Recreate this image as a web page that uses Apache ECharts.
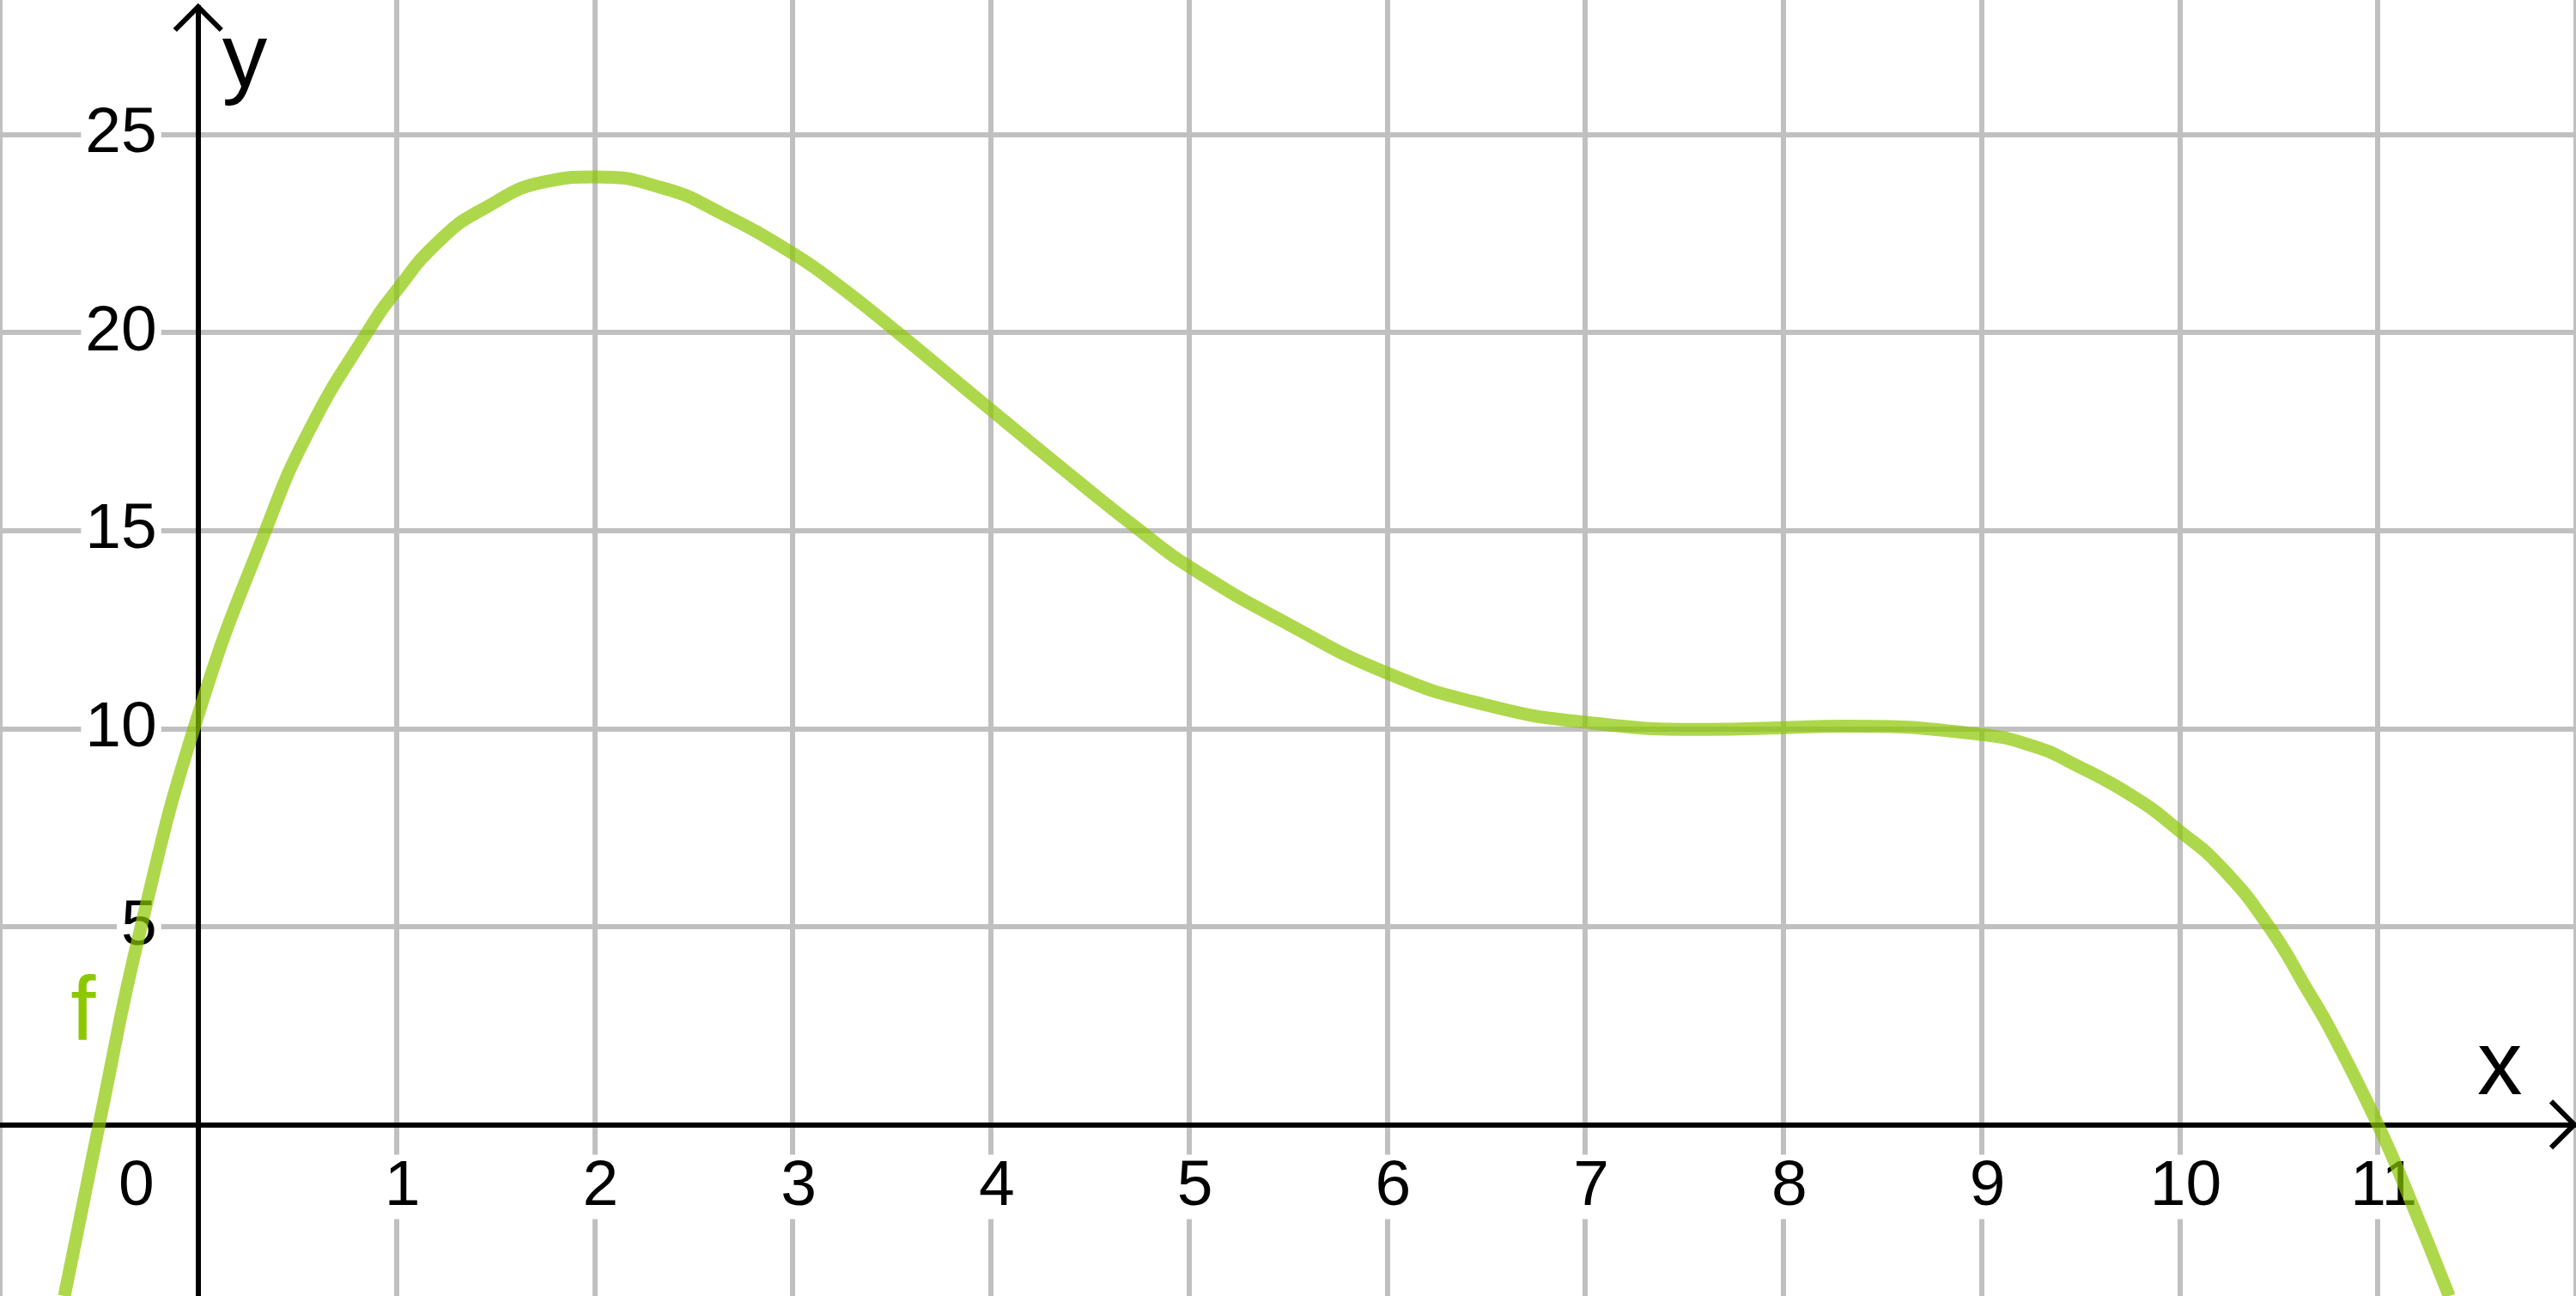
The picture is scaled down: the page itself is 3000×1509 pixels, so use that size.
<!DOCTYPE html>
<html>
<head>
<meta charset="utf-8">
<style>
	html, body { margin: 0; padding: 0; background: #ffffff; }
	#graph { width: 3000px; height: 1509px; }
</style>
<script src="https://cdn.jsdelivr.net/npm/echarts@6/dist/echarts.min.js"></script>
</head>
<body>
<div id="graph"></div>
<script>
var curveX = [ -0.675, -0.5, -0.288, 0, 0.34, 0.563, 0.853, 1, 1.21, 1.432, 1.773, 2, 2.351, 2.64, 3, 3.218, 3.53, 4, 4.5, 4.753, 5, 5.5, 6, 6.49, 7, 7.63, 8, 8.3, 9, 9.29, 9.44, 9.77, 10, 10.209, 10.45, 10.65, 10.76, 11.0, 11.17, 11.36 ];
var curveY = [ -4.33, 0, 5, 10.34, 15, 17.55, 20, 21.05, 22.28, 23.1, 23.83, 23.93, 23.64, 23.01, 22.0, 21.24, 20, 18.05, 16.0, 15, 14.09, 12.64, 11.4, 10.61, 10.16, 9.98, 10.02, 10.06, 9.85, 9.51, 9.17, 8.27, 7.41, 6.5, 5, 3.35, 2.4, 0, -1.97, -4.33 ];

// axis ranges and ticks
var xRange = [ -1, 12 ];
var yRange = [ -5, 30 ];
var xStep = 1;
var yStep = 5;
var hiddenX = [ -1, 12 ];
var hiddenY = [ -5, 0, 30 ];

// where the name of the graph sits
var fName = 'f';
var fNameAt = [ -0.58, 2.77 ];

var FONT = '"Liberation Sans", Arial, Helvetica, sans-serif';
var GREEN = '#8cc800';
var GRID_GREY = '#c0c0c0';

// the grid runs a little past the picture so that min and max stay multiples of the step
var W = 3000, H = 1509, GRID_TOP = -74, GRID_BOTTOM = -31;

// grey for every split line except the one under the other axis
function splitColors(range, step) {
	var colors = [];
	for (var v = range[0]; v <= range[1] + 1e-9; v += step)
		colors.push(Math.abs(v) < 1e-9 ? 'rgba(0,0,0,0)' : GRID_GREY);
	return colors;
}

function tickStyle(extra) {
	var s = {
		fontSize : 75,
		lineHeight : 75,
		fontFamily : FONT,
		color : '#000000',
		backgroundColor : '#ffffff',
		padding : [ 0, 5 ]
	};
	for ( var k in extra)
		s[k] = extra[k];
	return s;
}

function loadCurve(chartId) {
	var myGraph = echarts.init(document.getElementById(chartId));
	var points = curveX.map(function(x, i) {
		return [ x, curveY[i] ];
	});
	var unitX = W / (xRange[1] - xRange[0]);
	var unitY = (H - GRID_TOP - GRID_BOTTOM) / (yRange[1] - yRange[0]);

	graphOption = {
		animation : false,
		backgroundColor : '#ffffff',
		grid : {
			left : 0,
			right : 0,
			top : GRID_TOP,
			bottom : GRID_BOTTOM,
			containLabel : false,
			outerBoundsMode : 'none'
		},
		xAxis : {
			type : 'value',
			min : xRange[0],
			max : xRange[1],
			interval : xStep,
			position : 'bottom',
			// move the whole axis (line and labels) up to y = 0
			offset : -(0 - yRange[0]) * unitY,
			// empty second line lifts the name above the axis
			name : 'x\n ',
			nameLocation : 'end',
			nameGap : -115,
			nameMoveOverlap : false,
			nameTextStyle : {
				fontSize : 105,
				lineHeight : 128,
				fontFamily : FONT,
				color : '#000000',
				align : 'left',
				verticalAlign : 'middle'
			},
			axisLine : {
				show : true,
				onZero : false,
				lineStyle : { color : '#000000', width : 6 }
			},
			axisTick : { show : false },
			splitLine : {
				show : true,
				lineStyle : { color : splitColors(xRange, xStep), width : 6 }
			},
			axisLabel : {
				show : true,
				margin : 35,
				formatter : function(v) {
					if (hiddenX.indexOf(v) >= 0)
						return '';
					// the origin label sits left of the y axis
					return v === 0 ? '{n|0}{gapR| }' : '{gapL| }{n|' + v + '}';
				},
				rich : {
					n : tickStyle({}),
					gapL : { width : 14, height : 75, fontSize : 10 },
					gapR : { width : 144, height : 75, fontSize : 10 }
				}
			}
		},
		yAxis : {
			type : 'value',
			min : yRange[0],
			max : yRange[1],
			interval : yStep,
			position : 'left',
			// move the whole axis right to x = 0
			offset : -(0 - xRange[0]) * unitX,
			name : 'y',
			nameLocation : 'end',
			nameGap : -146,
			nameMoveOverlap : false,
			nameTextStyle : {
				fontSize : 105,
				lineHeight : 105,
				fontFamily : FONT,
				color : '#000000',
				align : 'left',
				verticalAlign : 'middle',
				padding : [ 0, 0, 0, 28 ]
			},
			axisLine : {
				show : true,
				onZero : false,
				lineStyle : { color : '#000000', width : 6 }
			},
			axisTick : { show : false },
			splitLine : {
				show : true,
				lineStyle : { color : splitColors(yRange, yStep), width : 6 }
			},
			axisLabel : tickStyle({
				show : true,
				margin : 43,
				formatter : function(v) {
					return hiddenY.indexOf(v) >= 0 ? '' : String(v);
				}
			})
		},
		series : [ {
			name : fName,
			type : 'line',
			data : points,
			smooth : 0.5,
			showSymbol : false,
			lineStyle : {
				color : GREEN,
				width : 15,
				opacity : 0.7
			},
			markPoint : {
				symbol : 'circle',
				symbolSize : 1,
				itemStyle : { color : 'rgba(0,0,0,0)' },
				label : {
					show : true,
					position : 'inside',
					formatter : fName,
					fontSize : 105,
					lineHeight : 105,
					fontFamily : FONT,
					color : GREEN
				},
				data : [ { coord : fNameAt } ]
			}
		} ]
	};
	myGraph.setOption(graphOption);

	// open arrow heads at the visible ends of both axes
	var ox = myGraph.convertToPixel({ xAxisIndex : 0 }, 0);
	var oy = myGraph.convertToPixel({ yAxisIndex : 0 }, 0);
	var arrowStyle = { stroke : '#000000', lineWidth : 6, fill : null };
	myGraph.setOption({
		graphic : [ {
			type : 'rect',
			z : 5,
			shape : { x : ox - 6, y : 0, width : 12, height : 6 },
			style : { fill : '#ffffff' }
		}, {
			type : 'polyline',
			z : 6,
			shape : { points : [ [ ox - 27, 35 ], [ ox, 8 ], [ ox + 27, 35 ] ] },
			style : arrowStyle
		}, {
			type : 'polyline',
			z : 6,
			shape : { points : [ [ W - 29, oy - 27 ], [ W - 2, oy ], [ W - 29, oy + 27 ] ] },
			style : arrowStyle
		} ]
	});
}

loadCurve('graph');
</script>
</body>
</html>
